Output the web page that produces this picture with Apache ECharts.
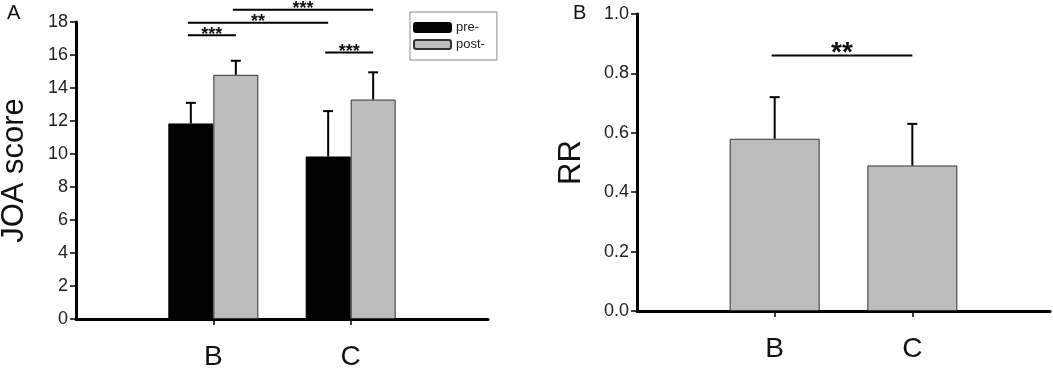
<!DOCTYPE html>
<html>
<head>
<meta charset="utf-8">
<script src="https://cdn.jsdelivr.net/npm/echarts@6/dist/echarts.min.js"></script>
<style>
  html, body { margin: 0; padding: 0; background: #fff; }
  #chart { width: 1053px; height: 371px; }
</style>
</head>
<body>
<div id="chart"></div>
<script>
// categories (empty slots pad the axis on both sides)
const categories = ['', 'B', 'C', '']
const groups = [1, 2] // index of B and C on the axis

// panel A: JOA score
const preMean = [11.85, 9.85]
const preErr = [1.25, 2.75]
const postMean = [14.8, 13.3]
const postErr = [0.85, 1.65]

// panel B: RR
const rrMean = [0.58, 0.49]
const rrErr = [0.14, 0.14]

// significance brackets: [group from, side from, group to, side to, height, label]
// side -1 = pre bar, 1 = post bar, 0 = single bar
const sigA = [
  [1, -1, 1, 1, 17.2, '***'],
  [1, -1, 2, -1, 17.95, '**'],
  [1, 1, 2, 1, 18.75, '***'],
  [2, -1, 2, 1, 16.15, '***']
]
const sigB = [
  [1, 0, 2, 0, 0.86, '**']
]

const yTicksA = { min: 0, max: 18, interval: 2 }
const yTicksB = { min: 0, max: 1, interval: 0.2 }

const FONT = 'Liberation Sans, Arial, sans-serif'
const BAR_W = 45

const chart = echarts.init(document.getElementById('chart'))

// 误差线
const errorSeries = (gridIdx, means, errs, side) => ({
  type: 'custom',
  xAxisIndex: gridIdx,
  yAxisIndex: gridIdx,
  z: 5,
  data: means.map((m, i) => [groups[i], m, m + errs[i]]),
  renderItem: (params, api) => {
    const p0 = api.coord([api.value(0), api.value(1)])
    const p1 = api.coord([api.value(0), api.value(2)])
    const x = p0[0] + side * BAR_W / 2
    const style = { stroke: '#000', lineWidth: 2 }
    return {
      type: 'group',
      children: [
        { type: 'line', shape: { x1: x, y1: p0[1], x2: x, y2: p1[1] }, style },
        { type: 'line', shape: { x1: x - 5, y1: p1[1], x2: x + 5, y2: p1[1] }, style }
      ]
    }
  }
})

// 显著性标记
const sigSeries = (gridIdx, rows, fontSize, labelGap) => ({
  type: 'custom',
  xAxisIndex: gridIdx,
  yAxisIndex: gridIdx,
  z: 5,
  data: rows.map(r => [r[0], r[1], r[2], r[3], r[4]]),
  renderItem: (params, api) => {
    const a = api.coord([api.value(0), api.value(4)])
    const b = api.coord([api.value(2), api.value(4)])
    const x1 = a[0] + api.value(1) * BAR_W / 2 - 3
    const x2 = b[0] + api.value(3) * BAR_W / 2
    return {
      type: 'group',
      children: [
        { type: 'line', shape: { x1, y1: a[1], x2, y2: a[1] }, style: { stroke: '#000', lineWidth: 2 } },
        {
          type: 'text',
          x: (x1 + x2) / 2,
          y: a[1] + labelGap,
          style: {
            text: rows[params.dataIndex][5],
            fontSize,
            fontWeight: 'bold',
            fontFamily: FONT,
            fill: '#111',
            align: 'center',
            verticalAlign: 'middle'
          }
        }
      ]
    }
  }
})

const xAxisBase = (gridIdx) => ({
  type: 'category',
  gridIndex: gridIdx,
  data: categories,
  boundaryGap: false,
  axisLine: { lineStyle: { color: '#000', width: 3 } },
  axisTick: {
    show: true,
    length: 6,
    interval: (i) => i === 1 || i === 2,
    lineStyle: { color: '#000', width: 1.5 }
  },
  axisLabel: {
    interval: (i) => i === 1 || i === 2,
    fontSize: 28,
    fontFamily: FONT,
    color: '#111',
    margin: 24
  },
  splitLine: { show: false }
})

const yAxisBase = (gridIdx, ticks, name, gap, fmt) => ({
  type: 'value',
  gridIndex: gridIdx,
  min: ticks.min,
  max: ticks.max,
  interval: ticks.interval,
  name,
  nameLocation: 'middle',
  nameRotate: 90,
  nameGap: gap,
  nameTextStyle: { fontSize: 31, fontFamily: FONT, color: '#111' },
  axisLine: { show: true, lineStyle: { color: '#000', width: 3 } },
  axisTick: { show: true, length: 6, lineStyle: { color: '#000', width: 1.5 } },
  axisLabel: { fontSize: 18, fontFamily: FONT, color: '#222', margin: 8, formatter: fmt },
  splitLine: { show: false }
})

const grayBar = { color: '#bdbdbd', borderColor: '#333', borderWidth: 1 }
const letterStyle = { fontSize: 20, fontFamily: FONT, fill: '#111' }

const option = {
  animation: false,
  backgroundColor: '#fff',
  graphic: [
    { type: 'text', left: 7, top: 3, style: { text: 'A', ...letterStyle } },
    { type: 'text', left: 573, top: 3, style: { text: 'B', ...letterStyle } }
  ],
  legend: {
    data: ['pre-', 'post-'],
    orient: 'vertical',
    left: 410,
    top: 12,
    itemWidth: 37,
    itemHeight: 9,
    itemGap: 4,
    padding: [9, 12, 9, 3],
    borderColor: '#888',
    borderWidth: 1,
    textStyle: { fontSize: 13, fontFamily: FONT, color: '#222' }
  },
  grid: [
    { left: 76, right: 565, top: 22, bottom: 52, outerBoundsMode: 'none' },
    { left: 637, right: 3, top: 14, bottom: 60, outerBoundsMode: 'none' }
  ],
  xAxis: [xAxisBase(0), xAxisBase(1)],
  yAxis: [
    yAxisBase(0, yTicksA, 'JOA score', 46, (v) => v),
    yAxisBase(1, yTicksB, 'RR', 50, (v) => v.toFixed(1))
  ],
  series: [
    {
      name: 'pre-',
      type: 'bar',
      xAxisIndex: 0,
      yAxisIndex: 0,
      barWidth: BAR_W,
      barGap: '0%',
      itemStyle: { color: '#000', borderColor: '#000', borderWidth: 1 },
      data: preMean.map((v, i) => [groups[i], v])
    },
    {
      name: 'post-',
      type: 'bar',
      xAxisIndex: 0,
      yAxisIndex: 0,
      barWidth: BAR_W,
      barGap: '0%',
      itemStyle: grayBar,
      data: postMean.map((v, i) => [groups[i], v])
    },
    errorSeries(0, preMean, preErr, -1),
    errorSeries(0, postMean, postErr, 1),
    sigSeries(0, sigA, 18, -0.5),
    {
      name: 'RR',
      type: 'bar',
      xAxisIndex: 1,
      yAxisIndex: 1,
      barWidth: 90,
      itemStyle: grayBar,
      data: rrMean.map((v, i) => [groups[i], v])
    },
    errorSeries(1, rrMean, rrErr, 0),
    sigSeries(1, sigB, 28, -2.2)
  ]
}

chart.setOption(option)
</script>
</body>
</html>
